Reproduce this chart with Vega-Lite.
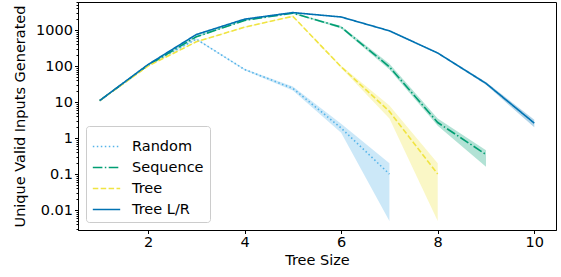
{
  "$schema": "https://vega.github.io/schema/vega-lite/v6.json",
  "width": 478,
  "height": 228,
  "autosize": "none",
  "padding": {"left": 78, "top": 2, "right": 5, "bottom": 47},
  "config": {
    "font": "DejaVu Sans",
    "view": {"stroke": "black", "strokeWidth": 1},
    "axis": {"domainColor": "black", "tickColor": "black", "labelColor": "black", "titleColor": "black", "labelFontSize": 14.5, "titleFontSize": 14.5, "titleFontWeight": "normal", "grid": false, "tickSize": 3.5, "labelPadding": 2},
    "legend": {"orient": "bottom-left", "offset": 8, "symbolType": "stroke", "symbolSize": 750, "symbolStrokeWidth": 1.6, "labelFontSize": 14.5, "labelColor": "black", "fillColor": "white", "strokeColor": "#cccccc", "cornerRadius": 3, "padding": 6, "rowPadding": -1, "labelOffset": 11}
  },
  "data": {"values": [
    {"series": "Random", "x": 1, "y": 11, "lo": 10.5, "hi": 11.5},
    {"series": "Random", "x": 2, "y": 105, "lo": 102, "hi": 108},
    {"series": "Random", "x": 3, "y": 560, "lo": 540, "hi": 580},
    {"series": "Random", "x": 4, "y": 80, "lo": 76, "hi": 84},
    {"series": "Random", "x": 5, "y": 24, "lo": 21, "hi": 27},
    {"series": "Random", "x": 6, "y": 1.9, "lo": 1.4, "hi": 2.5},
    {"series": "Random", "x": 7, "y": 0.1, "lo": 0.005, "hi": 0.2},
    {"series": "Sequence", "x": 1, "y": 11, "lo": 10.5, "hi": 11.5},
    {"series": "Sequence", "x": 2, "y": 105, "lo": 102, "hi": 108},
    {"series": "Sequence", "x": 3, "y": 650, "lo": 620, "hi": 680},
    {"series": "Sequence", "x": 4, "y": 1850, "lo": 1780, "hi": 1920},
    {"series": "Sequence", "x": 5, "y": 2950, "lo": 2850, "hi": 3050},
    {"series": "Sequence", "x": 6, "y": 1200, "lo": 1100, "hi": 1300},
    {"series": "Sequence", "x": 7, "y": 95, "lo": 80, "hi": 115},
    {"series": "Sequence", "x": 8, "y": 2.7, "lo": 2.2, "hi": 3.5},
    {"series": "Sequence", "x": 9, "y": 0.35, "lo": 0.16, "hi": 0.46},
    {"series": "Tree", "x": 1, "y": 11, "lo": 10.5, "hi": 11.5},
    {"series": "Tree", "x": 2, "y": 100, "lo": 97, "hi": 103},
    {"series": "Tree", "x": 3, "y": 470, "lo": 455, "hi": 485},
    {"series": "Tree", "x": 4, "y": 1200, "lo": 1160, "hi": 1240},
    {"series": "Tree", "x": 5, "y": 2400, "lo": 2320, "hi": 2480},
    {"series": "Tree", "x": 6, "y": 95, "lo": 88, "hi": 102},
    {"series": "Tree", "x": 7, "y": 5.5, "lo": 3.5, "hi": 8},
    {"series": "Tree", "x": 8, "y": 0.1, "lo": 0.005, "hi": 0.2},
    {"series": "Tree L/R", "x": 1, "y": 11, "lo": 10.5, "hi": 11.5},
    {"series": "Tree L/R", "x": 2, "y": 110, "lo": 106, "hi": 114},
    {"series": "Tree L/R", "x": 3, "y": 750, "lo": 720, "hi": 780},
    {"series": "Tree L/R", "x": 4, "y": 2000, "lo": 1930, "hi": 2070},
    {"series": "Tree L/R", "x": 5, "y": 3050, "lo": 2950, "hi": 3150},
    {"series": "Tree L/R", "x": 6, "y": 2300, "lo": 2220, "hi": 2380},
    {"series": "Tree L/R", "x": 7, "y": 950, "lo": 910, "hi": 990},
    {"series": "Tree L/R", "x": 8, "y": 230, "lo": 218, "hi": 242},
    {"series": "Tree L/R", "x": 9, "y": 33, "lo": 30, "hi": 36},
    {"series": "Tree L/R", "x": 10, "y": 2.6, "lo": 2.0, "hi": 3.2}
  ]},
  "layer": [
    {
      "transform": [{"filter": {"field": "series", "equal": "Random"}}],
      "mark": {"type": "area", "opacity": 0.3, "strokeWidth": 0, "fill": "#56B4E9"},
      "encoding": {
        "x": {"field": "x", "type": "quantitative", "scale": {"domain": [0.55, 10.45], "nice": false, "zero": false}, "axis": {"values": [2, 4, 6, 8, 10], "title": "Tree Size", "titlePadding": 4}},
        "y": {"field": "lo", "type": "quantitative", "scale": {"type": "log", "domain": [0.0028, 6000], "nice": false}, "axis": {"orient": "left", "values": [0.003, 0.004, 0.005, 0.006, 0.007, 0.008, 0.009, 0.02, 0.03, 0.04, 0.05, 0.06, 0.07, 0.08, 0.09, 0.2, 0.3, 0.4, 0.5, 0.6, 0.7, 0.8, 0.9, 2, 3, 4, 5, 6, 7, 8, 9, 20, 30, 40, 50, 60, 70, 80, 90, 200, 300, 400, 500, 600, 700, 800, 900, 2000, 3000, 4000, 5000, 6000], "labels": false, "tickSize": 2, "title": null, "domain": false}},
        "y2": {"field": "hi"}
      }
    },
    {
      "transform": [{"filter": {"field": "series", "equal": "Sequence"}}],
      "mark": {"type": "area", "opacity": 0.3, "strokeWidth": 0, "fill": "#009E73"},
      "encoding": {
        "x": {"field": "x", "type": "quantitative"},
        "y": {"field": "lo", "type": "quantitative", "axis": null},
        "y2": {"field": "hi"}
      }
    },
    {
      "transform": [{"filter": {"field": "series", "equal": "Tree"}}],
      "mark": {"type": "area", "opacity": 0.3, "strokeWidth": 0, "fill": "#F0E442"},
      "encoding": {
        "x": {"field": "x", "type": "quantitative"},
        "y": {"field": "lo", "type": "quantitative", "axis": null},
        "y2": {"field": "hi"}
      }
    },
    {
      "transform": [{"filter": {"field": "series", "equal": "Tree L/R"}}],
      "mark": {"type": "area", "opacity": 0.3, "strokeWidth": 0, "fill": "#0072B2"},
      "encoding": {
        "x": {"field": "x", "type": "quantitative"},
        "y": {"field": "lo", "type": "quantitative", "axis": null},
        "y2": {"field": "hi"}
      }
    },
    {
      "mark": {"type": "line", "strokeWidth": 1.6},
      "encoding": {
        "x": {"field": "x", "type": "quantitative"},
        "y": {"field": "y", "type": "quantitative", "axis": {"orient": "left", "values": [0.01, 0.1, 1, 10, 100, 1000], "format": "~g", "title": "Unique Valid Inputs Generated", "titlePadding": 8}},
        "stroke": {"field": "series", "type": "nominal", "scale": {"domain": ["Random", "Sequence", "Tree", "Tree L/R"], "range": ["#56B4E9", "#009E73", "#F0E442", "#0072B2"]}, "title": null},
        "strokeDash": {"field": "series", "type": "nominal", "scale": {"domain": ["Random", "Sequence", "Tree", "Tree L/R"], "range": [[1.5, 2.5], [9.6, 2.4, 1.5, 2.4], [5.5, 2.4], [1, 0]]}, "title": null}
      }
    }
  ],
  "resolve": {"axis": {"y": "independent"}}
}
